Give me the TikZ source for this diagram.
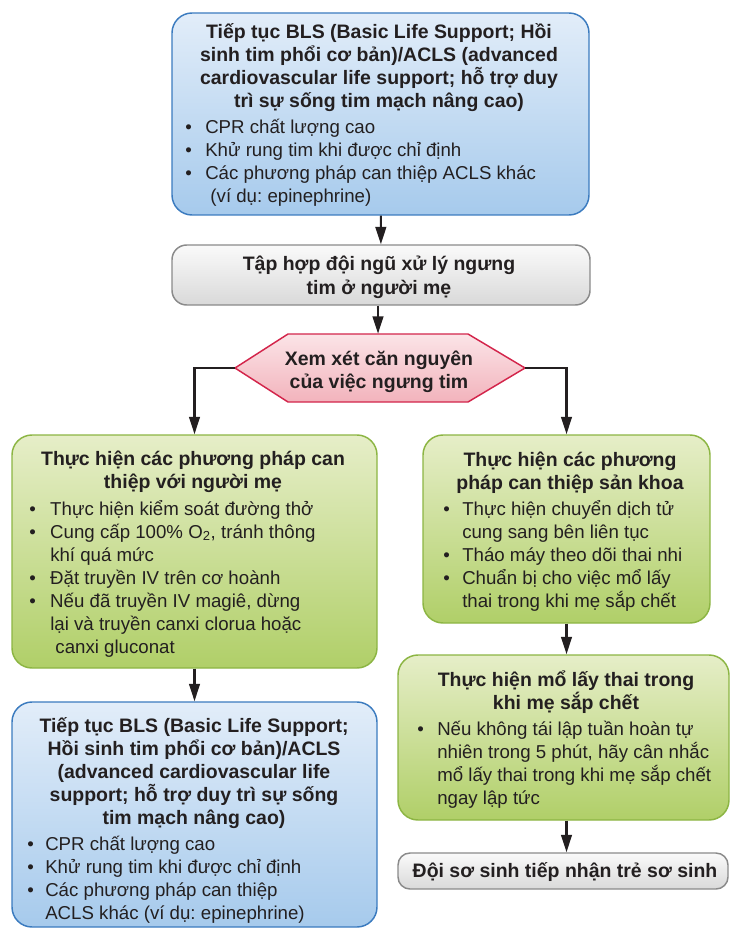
\documentclass[tikz,border=0pt]{standalone}
\usepackage{fontspec}
\setmainfont{Liberation Sans}
\usetikzlibrary{arrows.meta,fit}

\definecolor{ink}{HTML}{231F20}
\definecolor{blueedge}{HTML}{3B7BBF}
\definecolor{bluetop}{HTML}{E2EDF9}
\definecolor{bluebot}{HTML}{A6CAEC}
\definecolor{grayedge}{HTML}{8A8A8A}
\definecolor{graytop}{HTML}{FAFAFA}
\definecolor{graybot}{HTML}{D9D9D9}
\definecolor{pinkedge}{HTML}{D3254B}
\definecolor{pinktop}{HTML}{FBE4E7}
\definecolor{pinkbot}{HTML}{F2B3BC}
\definecolor{greenedge}{HTML}{8CB543}
\definecolor{greentop}{HTML}{E6EEC8}
\definecolor{greenbot}{HTML}{B0CF68}

\frenchspacing
\setlength{\lineskiplimit}{-100pt}
\newlength\bw
% centred bold heading block, first baseline on the node's base
\newcommand\hd[2]{\begin{minipage}[t]{#1}\centering\fontsize{14.6}{17.25}\selectfont\bfseries #2\end{minipage}}
% bullet list block
\newcommand\lst[2]{\begin{minipage}[t]{330pt}\raggedright\setlength\bw{#1}#2\end{minipage}}
\newcommand\bl[1]{\makebox[\bw][l]{\textbullet}#1}
\newcommand\cn[1]{\hspace*{\bw}#1}

\tikzset{
  box/.style={rounded corners=15pt, line width=1.1pt, inner sep=0pt},
  bluebox/.style={box, draw=blueedge, top color=bluetop, bottom color=bluebot},
  graybox/.style={box, rounded corners=11pt, draw=grayedge, top color=graytop, bottom color=graybot},
  greenbox/.style={box, draw=greenedge, top color=greentop, bottom color=greenbot},
  hexbox/.style={line width=1.1pt, draw=pinkedge, top color=pinktop, bottom color=pinkbot},
  txt/.style={inner sep=0pt, text=ink, font=\fontsize{14}{17.25}\selectfont},
  arr/.style={draw=ink, line width=1.6pt, -{Triangle[width=8pt,length=13pt]}},
}

\begin{document}
\begin{tikzpicture}[x=0.75pt, y=-0.75pt]
\useasboundingbox (0,0) rectangle (730,930);

% boxes
\node[bluebox, fit={(172,13) (589,215)}] (bls) {};
\node[graybox, fit={(172,245) (590,305)}] (team) {};
\path[hexbox] (235,368) -- (288,334) -- (468,334) -- (525,368) -- (468,402) -- (288,402) -- cycle;
\coordinate (hexL) at (235,368);
\coordinate (hexR) at (525,368);
\node[inner sep=0pt, fit={(288,334) (468,402)}] (hex) {};
\node[greenbox, fit={(12,435) (377,668)}] (mom) {};
\node[greenbox, fit={(423,435) (710,623)}] (obs) {};
\node[bluebox, fit={(12,702) (377,927)}] (bls2) {};
\node[greenbox, fit={(398,655) (729,820)}] (cs) {};
\node[graybox, rounded corners=9pt, fit={(398,853) (728,889)}] (neo) {};

% texts
\node[txt, anchor=base] (blsT) at (379,39) {\hd{312pt}{Tiếp tục BLS (Basic Life Support; Hồi\\
sinh tim phổi cơ bản)/ACLS (advanced\\
cardiovascular life support; hỗ trợ duy\\
trì sự sống tim mạch nâng cao)}};
\node[txt, anchor=base west] (blsL) at (185,134) {\lst{15pt}{\bl{CPR chất lượng cao}\\
\bl{Khử rung tim khi được chỉ định}\\
\bl{Các phương pháp can thiệp ACLS khác}\\
\cn{\ (ví dụ: epinephrine)}}};

\node[txt, anchor=base] (teamT) at (379,271) {\hd{300pt}{Tập hợp đội ngũ xử lý ngưng\\tim ở người mẹ}};

\node[txt, anchor=base] (hexT) at (379,365) {\hd{200pt}{Xem xét căn nguyên\\của việc ngưng tim}};

\node[txt, anchor=base] (momT) at (193,465) {\hd{272pt}{Thực hiện các phương pháp can\\thiệp với người mẹ}};
\node[txt, anchor=base west] (momL) at (29,515) {\lst{15.75pt}{\bl{Thực hiện kiểm soát đường thở}\\
\bl{Cung cấp 100\% O\textsubscript{2}, tránh thông}\\
\cn{khí quá mức}\\
\bl{Đặt truyền IV trên cơ hoành}\\
\bl{Nếu đã truyền IV magiê, dừng}\\
\cn{lại và truyền canxi clorua hoặc}\\
\cn{\ canxi gluconat}}};

\node[txt, anchor=base] (obsT) at (570,466) {\hd{214pt}{Thực hiện các phương\\pháp can thiệp sản khoa}};
\node[txt, anchor=base west] (obsL) at (443,515) {\lst{14.25pt}{\bl{Thực hiện chuyển dịch tử}\\
\cn{cung sang bên liên tục}\\
\bl{Tháo máy theo dõi thai nhi}\\
\bl{Chuẩn bị cho việc mổ lấy}\\
\cn{thai trong khi mẹ sắp chết}}};

\node[txt, anchor=base] (csT) at (566,686) {\hd{246pt}{Thực hiện mổ lấy thai trong\\khi mẹ sắp chết}};
\node[txt, anchor=base west] (csL) at (417,735) {\lst{15pt}{\bl{Nếu không tái lập tuần hoàn tự}\\
\cn{nhiên trong 5 phút, hãy cân nhắc}\\
\cn{mổ lấy thai trong khi mẹ sắp chết}\\
\cn{ngay lập tức}}};

\node[txt, anchor=base] (bls2T) at (194,732) {\hd{272pt}{Tiếp tục BLS (Basic Life Support;\\
Hồi sinh tim phổi cơ bản)/ACLS\\
(advanced cardiovascular life\\
support; hỗ trợ duy trì sự sống\\
tim mạch nâng cao)}};
\node[txt, anchor=base west] (bls2L) at (27,850) {\lst{13.5pt}{\bl{CPR chất lượng cao}\\
\bl{Khử rung tim khi được chỉ định}\\
\bl{Các phương pháp can thiệp}\\
\cn{ACLS khác (ví dụ: epinephrine)}}};

\node[txt, anchor=base] (neoT) at (565,877) {\hd{246pt}{Đội sơ sinh tiếp nhận trẻ sơ sinh}};

% connectors
\draw[arr] (bls) -- (team);
\draw[arr] (team.south -| hex.north) -- (hex.north);
\draw[arr] (hexL) -| (mom);
\draw[arr] (hexR) -| (obs);
\draw[arr] (mom) -- (bls2);
\draw[arr] (obs.south) -- (obs.south |- cs.north);
\draw[arr] (obs.south |- cs.south) -- (obs.south |- neo.north);
\end{tikzpicture}
\end{document}
